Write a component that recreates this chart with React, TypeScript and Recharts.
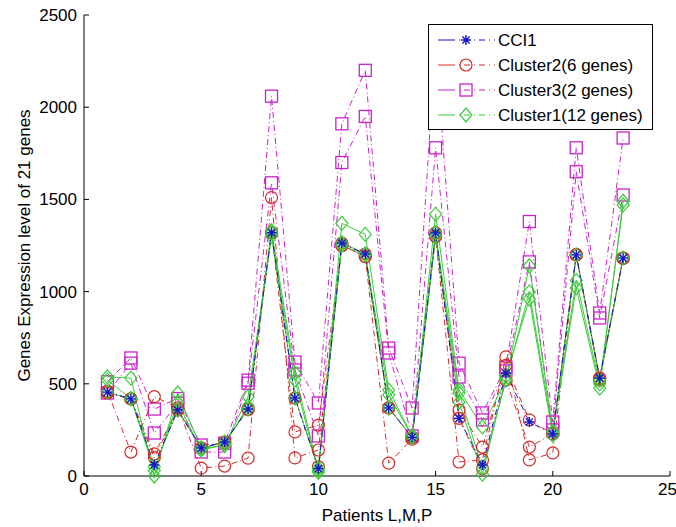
import { LineChart, Line, XAxis, YAxis, Legend } from 'recharts';

const patients = [1, 2, 3, 4, 5, 6, 7, 8, 9, 10, 11, 12, 13, 14, 15, 16, 17, 18, 19, 20, 21, 22, 23];

const cci1 = [455, 418, 60, 358, 152, 184, 363, 1320, 423, 40, 1263, 1204, 369, 210, 1318, 313, 60, 558, 293, 228, 1199, 531, 1182];

const cluster2A = [460, 130, 430, 370, 43, 54, 97, 1510, 98, 141, 1250, 1190, 70, 200, 1300, 76, 87, 646, 87, 125, 1200, 520, 1180];
const cluster2B = [450, 418, 120, 360, 150, 180, 363, 1320, 239, 276, 1250, 1190, 369, 210, 1300, 358, 157, 600, 304, 228, 1199, 531, 1182];
const cluster2C = [455, 418, 100, 358, 152, 184, 360, 1320, 423, 50, 1263, 1204, 369, 210, 1318, 313, 40, 520, 157, 228, 1199, 531, 1182];

const cluster3A = [511, 640, 363, 420, 168, 178, 520, 2060, 618, 396, 1910, 2200, 694, 369, 2350, 612, 342, 591, 1380, 293, 1780, 884, 1833];
const cluster3B = [450, 612, 233, 395, 130, 130, 503, 1590, 575, 217, 1700, 1950, 667, 217, 1780, 537, 304, 570, 1161, 250, 1650, 857, 1524];

const cluster1A = [538, 531, 0, 450, 150, 165, 430, 1300, 520, 20, 1370, 1310, 466, 217, 1420, 466, 266, 521, 998, 240, 1020, 477, 1490];
const cluster1B = [455, 418, 50, 358, 152, 184, 363, 1320, 423, 43, 1250, 1200, 369, 210, 1300, 400, 10, 540, 960, 220, 1199, 520, 1182];
const cluster1C = [520, 420, 30, 400, 140, 170, 380, 1330, 558, 30, 1265, 1205, 440, 215, 1320, 450, 43, 521, 1140, 240, 1060, 500, 1470];

const xTicks = [0, 5, 10, 15, 20, 25];
const yTicks = [0, 500, 1000, 1500, 2000, 2500];

const BLUE = '#1414c8';
const RED = '#d42c2c';
const MAGENTA = '#cc22cc';
const GREEN = '#3ccc3c';
const DASH_DOT = '6 3 1 3';
const FONT = "'Liberation Sans', Arial, sans-serif";

const data = patients.map((p, i) => ({
  patient: p,
  cci1: cci1[i],
  c2a: cluster2A[i],
  c2b: cluster2B[i],
  c2c: cluster2C[i],
  c3a: cluster3A[i],
  c3b: cluster3B[i],
  c1a: cluster1A[i],
  c1b: cluster1B[i],
  c1c: cluster1C[i],
}));

type Shape = 'star' | 'circle' | 'square' | 'diamond';

function Marker({ shape, x, y, color }: { shape: Shape; x: number; y: number; color: string }) {
  if (x == null || y == null) return <g />;
  if (shape === 'star') {
    return (
      <g stroke={color} strokeWidth={1.4}>
        <line x1={x - 5} y1={y} x2={x + 5} y2={y} />
        <line x1={x} y1={y - 5} x2={x} y2={y + 5} />
        <line x1={x - 3.6} y1={y - 3.6} x2={x + 3.6} y2={y + 3.6} />
        <line x1={x - 3.6} y1={y + 3.6} x2={x + 3.6} y2={y - 3.6} />
      </g>
    );
  }
  if (shape === 'circle') {
    return <circle cx={x} cy={y} r={6} fill="none" stroke={color} strokeWidth={1.2} />;
  }
  if (shape === 'square') {
    return <rect x={x - 6} y={y - 6} width={12} height={12} fill="none" stroke={color} strokeWidth={1.3} />;
  }
  return (
    <polygon
      points={`${x},${y - 7} ${x + 6},${y} ${x},${y + 7} ${x - 6},${y}`}
      fill="none"
      stroke={color}
      strokeWidth={1.2}
    />
  );
}

const dotOf = (shape: Shape, color: string) => (p: any) => (
  <Marker key={`${shape}-${p.index}`} shape={shape} x={p.cx} y={p.cy} color={color} />
);

const legendItems: { name: string; color: string; shape: Shape }[] = [
  { name: 'CCI1', color: BLUE, shape: 'star' },
  { name: 'Cluster2(6 genes)', color: RED, shape: 'circle' },
  { name: 'Cluster3(2 genes)', color: MAGENTA, shape: 'square' },
  { name: 'Cluster1(12 genes)', color: GREEN, shape: 'diamond' },
];

function LegendBox() {
  return (
    <div style={{ width: 225, height: 106, border: '1px solid #000', background: '#fff', boxSizing: 'border-box' }}>
      <svg width={223} height={104} style={{ display: 'block' }}>
        {legendItems.map((item, i) => {
          const y = 15 + i * 25;
          return (
            <g key={item.name}>
              <line x1={9} y1={y} x2={66} y2={y} stroke={item.color} strokeWidth={1} strokeDasharray="17 4 1 4 6 4 1 4 6 4 1 4" />
              <Marker shape={item.shape} x={37} y={y} color={item.color} />
              <text x={69} y={y} dominantBaseline="central" fontSize={17} fontFamily={FONT} fill="#000">
                {item.name}
              </text>
            </g>
          );
        })}
      </svg>
    </div>
  );
}

const tickStyle = { fill: '#000', fontSize: 17, fontFamily: FONT };

export default function App() {
  return (
    <div style={{ position: 'absolute', left: 0, top: 0, width: 676, height: 527, background: '#fff' }}>
      <LineChart width={676} height={527} data={data} margin={{ top: 15, right: 6, bottom: 0, left: 0 }}>
        <XAxis
          xAxisId="bottom"
          dataKey="patient"
          type="number"
          domain={[0, 25]}
          ticks={xTicks}
          height={51}
          stroke="#000"
          tickSize={-5}
          tickMargin={12}
          tick={tickStyle}
          label={{ value: 'Patients L,M,P', position: 'insideBottom', offset: 6, fill: '#000', fontSize: 17, fontFamily: FONT }}
        />
        <XAxis
          xAxisId="top"
          dataKey="patient"
          type="number"
          orientation="top"
          domain={[0, 25]}
          ticks={xTicks}
          height={0}
          stroke="#000"
          tickSize={-5}
          tickFormatter={() => ''}
        />
        <YAxis
          yAxisId="left"
          type="number"
          domain={[0, 2500]}
          ticks={yTicks}
          width={84}
          stroke="#000"
          tickSize={-5}
          tickMargin={12}
          tick={tickStyle}
          label={{
            value: 'Genes Expression level of 21 genes',
            angle: -90,
            position: 'insideLeft',
            offset: 24,
            fill: '#000',
            fontSize: 17,
            fontFamily: FONT,
            style: { textAnchor: 'middle' },
          }}
        />
        <YAxis
          yAxisId="right"
          orientation="right"
          type="number"
          domain={[0, 2500]}
          ticks={yTicks}
          width={0}
          stroke="#000"
          tickSize={-5}
          tickFormatter={() => ''}
        />
        <Legend
          layout="vertical"
          align="center"
          verticalAlign="middle"
          wrapperStyle={{ left: 428, top: 24, width: 225, height: 106 }}
          content={() => <LegendBox />}
        />
        <Line xAxisId="bottom" yAxisId="left" dataKey="c3a" stroke={MAGENTA} strokeWidth={1} strokeDasharray={DASH_DOT} dot={dotOf('square', MAGENTA)} isAnimationActive={false} />
        <Line xAxisId="bottom" yAxisId="left" dataKey="c3b" stroke={MAGENTA} strokeWidth={1} strokeDasharray={DASH_DOT} dot={dotOf('square', MAGENTA)} isAnimationActive={false} />
        <Line xAxisId="bottom" yAxisId="left" dataKey="c2a" stroke={RED} strokeWidth={1} strokeDasharray={DASH_DOT} dot={dotOf('circle', RED)} isAnimationActive={false} />
        <Line xAxisId="bottom" yAxisId="left" dataKey="c2b" stroke={RED} strokeWidth={1} strokeDasharray={DASH_DOT} dot={dotOf('circle', RED)} isAnimationActive={false} />
        <Line xAxisId="bottom" yAxisId="left" dataKey="c2c" stroke={RED} strokeWidth={1} strokeDasharray={DASH_DOT} dot={dotOf('circle', RED)} isAnimationActive={false} />
        <Line xAxisId="bottom" yAxisId="left" dataKey="c1a" stroke={GREEN} strokeWidth={1} dot={dotOf('diamond', GREEN)} isAnimationActive={false} />
        <Line xAxisId="bottom" yAxisId="left" dataKey="c1b" stroke={GREEN} strokeWidth={1} dot={dotOf('diamond', GREEN)} isAnimationActive={false} />
        <Line xAxisId="bottom" yAxisId="left" dataKey="c1c" stroke={GREEN} strokeWidth={1} dot={dotOf('diamond', GREEN)} isAnimationActive={false} />
        <Line xAxisId="bottom" yAxisId="left" dataKey="cci1" stroke={BLUE} strokeWidth={1} strokeDasharray={DASH_DOT} dot={dotOf('star', BLUE)} isAnimationActive={false} />
      </LineChart>
    </div>
  );
}
